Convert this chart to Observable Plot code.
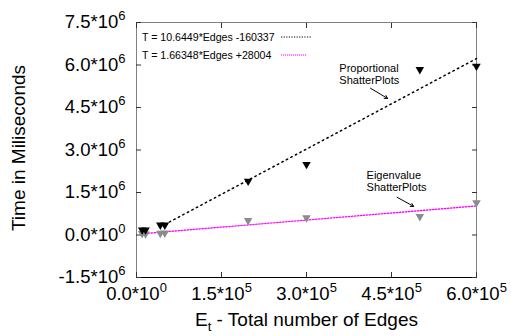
<!DOCTYPE html>
<html><head><meta charset="utf-8">
<script src="https://cdn.jsdelivr.net/npm/d3@7"></script>
<script src="https://cdn.jsdelivr.net/npm/@observablehq/plot@0.6"></script>
<style>body{margin:0;background:#fff}</style>
</head><body><div id="chart"></div>
<script>
// Data
const edges = [10000, 16000, 42000, 50000, 197000, 300000, 500000, 600000];
const propTime = [150000, 150000, 320000, 320000, 1870000, 2460000, 5810000, 5930000];
const eigenTime = [20000, 10000, 30000, 40000, 480000, 580000, 620000, 1110000];
// Fit lines (end points from the fitted formulas in the legend)
const propFitEdges = [42000, 600000];
const propFitTime = [286749, 6226603];
const eigenFitEdges = [10000, 600000];
const eigenFitTime = [44639, 1026092];
const yTicks = [-1.5e6, 0, 1.5e6, 3e6, 4.5e6, 6e6, 7.5e6];
const xTicks = [0, 1.5e5, 3e5, 4.5e5, 6e5];
const xDomain = [0, 6e5];
const yDomain = [-1.5e6, 7.5e6];
const legendLabels = ["T = 10.6449*Edges -160337", "T = 1.66348*Edges +28004"];

const propData = edges.map((e, i) => ({edges: e, time: propTime[i]}));
const eigenData = edges.map((e, i) => ({edges: e, time: eigenTime[i]}));
const propFit = propFitEdges.map((e, i) => ({edges: e, time: propFitTime[i]}));
const eigenFit = eigenFitEdges.map((e, i) => ({edges: e, time: eigenFitTime[i]}));

const fmtY = d => d === 0 ? "0.0*10^0" : (d / 1e6).toFixed(1) + "*10^6";
const fmtX = d => d === 0 ? "0.0*10^0" : (d / 1e5).toFixed(1) + "*10^5";

const triDown = {
  draw(ctx, size) {
    const r = Math.sqrt(size / Math.PI);
    ctx.moveTo(-1.15 * r, -0.9 * r);
    ctx.lineTo(1.15 * r, -0.9 * r);
    ctx.lineTo(0, 1.1 * r);
    ctx.closePath();
  }
};

const font = "'Liberation Sans', Arial, Helvetica, sans-serif";
const chart = Plot.plot({
  width: 511, height: 336,
  marginLeft: 136, marginRight: 35, marginTop: 22, marginBottom: 59,
  style: {fontFamily: font, fontSize: "18px", background: "#fff", color: "#000"},
  x: {domain: xDomain},
  y: {domain: yDomain},
  marks: [
    Plot.frame({stroke: "#808080"}),
    Plot.ruleY([yDomain[0]], {stroke: "#000"}),
    Plot.axisX({anchor: "bottom", ticks: xTicks, tickSize: 0, tickPadding: 9, tickFormat: fmtX, fontSize: 18.5, label: null}),
    Plot.axisY({anchor: "left", ticks: yTicks, tickSize: 0, tickPadding: 11, tickFormat: fmtY, fontSize: 18.5, label: null}),
    Plot.axisX({anchor: "bottom", ticks: xTicks, tickSize: -5, tickFormat: () => "", label: null, stroke: "#333"}),
    Plot.axisX({anchor: "top", ticks: xTicks, tickSize: -5, tickFormat: () => "", label: null, stroke: "#333"}),
    Plot.axisY({anchor: "left", ticks: yTicks, tickSize: -5, tickFormat: () => "", label: null, stroke: "#333"}),
    Plot.axisY({anchor: "right", ticks: yTicks, tickSize: -5, tickFormat: () => "", label: null, stroke: "#333"}),
    Plot.line(propFit, {x: "edges", y: "time", stroke: "#000", strokeWidth: 1.5, strokeDasharray: "1.5,3.6"}),
    Plot.line(eigenFit, {x: "edges", y: "time", stroke: "#ff00ff", strokeWidth: 1.3, strokeDasharray: "1.4,1.6"}),
    Plot.dot(eigenData, {x: "edges", y: "time", symbol: triDown, r: 3.7, fill: "#8c8c8c", stroke: "none"}),
    Plot.dot(propData, {x: "edges", y: "time", symbol: triDown, r: 3.7, fill: "#000", stroke: "none"}),
    Plot.text(["Proportional\nShatterPlots"], {x: () => 3.58e5, y: () => 5.67e6, textAnchor: "start", fontSize: 11, lineHeight: 1.1}),
    Plot.arrow([0], {x1: () => 4.13e5, y1: () => 5.18e6, x2: () => 4.43e5, y2: () => 4.82e6, headLength: 5, strokeWidth: 1, stroke: "#000"}),
    Plot.text(["Eigenvalue\nShatterPlots"], {x: () => 4.06e5, y: () => 1.89e6, textAnchor: "start", fontSize: 11, lineHeight: 1.1}),
    Plot.arrow([0], {x1: () => 4.60e5, y1: () => 1.33e6, x2: () => 4.89e5, y2: () => 1.01e6, headLength: 5, strokeWidth: 1, stroke: "#000"}),
    Plot.text(["Time in Miliseconds"], {frameAnchor: "left", dx: -117.5, dy: -2, rotate: -90, fontSize: 19, textAnchor: "middle"}),
    Plot.text(["E_t - Total number of Edges"], {frameAnchor: "bottom", dy: 48, fontSize: 19, textAnchor: "middle"})
  ]
});

// Turn "^x" / "_x" into superscript / subscript tspans
function richify(el) {
  if (el.children.length) return;
  const s = el.textContent;
  if (!/[\^_]/.test(s)) return;
  const segs = [];
  let buf = "";
  for (let i = 0; i < s.length; i++) {
    const ch = s[i];
    if ((ch === "^" || ch === "_") && i + 1 < s.length) {
      if (buf) segs.push({t: buf, k: "n"});
      segs.push({t: s[i + 1], k: ch});
      buf = ""; i++;
    } else buf += ch;
  }
  if (buf) segs.push({t: buf, k: "n"});
  el.textContent = "";
  let shift = 0;
  const ns = "http://www.w3.org/2000/svg";
  for (const seg of segs) {
    const ts = document.createElementNS(ns, "tspan");
    ts.style.whiteSpace = "pre";
    ts.textContent = seg.t;
    const target = seg.k === "^" ? -8 : seg.k === "_" ? 5 : 0;
    if (target !== shift) ts.setAttribute("dy", target - shift);
    shift = target;
    if (seg.k !== "n") ts.setAttribute("font-size", "13");
    el.appendChild(ts);
  }
}
d3.select(chart).selectAll("text").each(function () { richify(this); });

// Legend (key) inside the top-left of the frame
const svg = d3.select(chart);
const lg = svg.append("g").attr("font-family", font).attr("font-size", 10.6).attr("text-anchor", "start");
const legendStyles = [
  {stroke: "#000", dash: "1.2,1.4", len: 30},
  {stroke: "#ff00ff", dash: "1.2,0.8", len: 26}
];
legendLabels.forEach((lab, i) => {
  const cy = 37 + i * 18;
  lg.append("text").attr("x", 142).attr("y", cy).attr("dy", "0.35em").attr("fill", "#000").text(lab);
  lg.append("line").attr("x1", 281).attr("x2", 281 + legendStyles[i].len).attr("y1", cy).attr("y2", cy)
    .attr("stroke", legendStyles[i].stroke).attr("stroke-width", 1).attr("stroke-dasharray", legendStyles[i].dash);
});

document.getElementById("chart").appendChild(chart);
</script>
</body></html>
